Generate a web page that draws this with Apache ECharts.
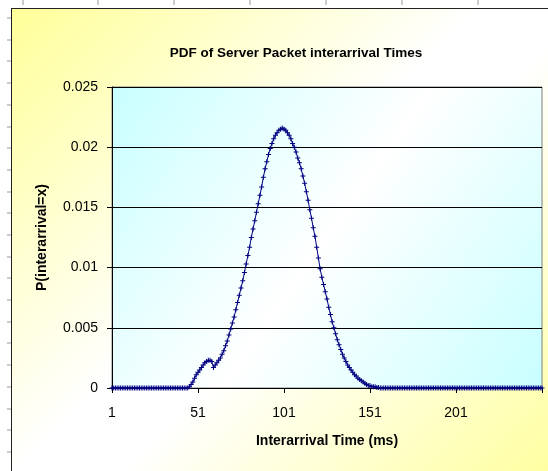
<!DOCTYPE html>
<html>
<head>
  <meta charset="utf-8">
  <title>PDF of Server Packet interarrival Times</title>
  <script src="https://cdn.jsdelivr.net/npm/echarts@6/dist/echarts.min.js"></script>
  <style>
    body { margin: 0; background: #fff; }
    #box {
      position: absolute; left: 11px; top: 8px; width: 560px; height: 480px;
      border: 1px solid #222; box-sizing: border-box;
      background: linear-gradient(135deg, #ffff99 0%, #ffffff 45%, #ffffff 55%, #ffff99 100%);
    }
    #main { position: absolute; left: 0; top: 0; width: 548px; height: 471px; }
  </style>
</head>
<body>
<div id="box"></div>
<div id="main"></div>
<script type="text/javascript">
  // x categories are the interarrival times 1..251 ms
  var times = [];
  for (var t = 1; t <= 251; t++) times.push(String(t));

  var yTicks = [0, 0.005, 0.01, 0.015, 0.02, 0.025];

  // P(interarrival = x)
  var pdf = [
    0,0,0,0,0,0,0,0,0,0, 0,0,0,0,0,0,0,0,0,0,
    0,0,0,0,0,0,0,0,0,0, 0,0,0,0,0,0,0,0,0,0,
    0,0,0,0,0,0.0001,0.0003,0.0005,0.0008,0.0011,
    0.0013,0.0015,0.0017,0.0019,0.0021,0.0022,0.0023,0.0023,0.0022,0.0017,
    0.0019,0.0021,0.0023,0.0025,0.0028,0.0031,0.0035,0.0039,0.0044,0.0049,
    0.0054,0.0059,0.0065,0.0071,0.0077,0.0083,0.0089,0.0096,0.0103,0.0110,
    0.0117,0.0125,0.0132,0.0139,0.0146,0.0153,0.0160,0.0167,0.0175,0.0182,
    0.0188,0.0194,0.0199,0.0203,0.0207,0.0210,0.0212,0.0214,0.0215,0.0216,
    0.0215,0.0214,0.0212,0.0210,0.0207,0.0203,0.0200,0.0196,0.0191,0.0187,
    0.0182,0.0176,0.0170,0.0163,0.0156,0.0148,0.0141,0.0133,0.0126,0.0117,
    0.0108,0.0099,0.0092,0.0086,0.0080,0.0074,0.0067,0.0061,0.0055,0.0050,
    0.0045,0.0040,0.0036,0.0032,0.0028,0.0025,0.0022,0.0019,0.0017,0.0015,
    0.0013,0.0011,0.0010,0.0008,0.0007,0.0006,0.0005,0.0004,0.0003,0.0002,
    0.0002,0.0001,0.0001,0.0001,0.00005,0.00005,0,0,0,0,
    0,0,0,0,0,0,0,0,0,0, 0,0,0,0,0,0,0,0,0,0,
    0,0,0,0,0,0,0,0,0,0, 0,0,0,0,0,0,0,0,0,0,
    0,0,0,0,0,0,0,0,0,0, 0,0,0,0,0,0,0,0,0,0,
    0,0,0,0,0,0,0,0,0,0, 0,0,0,0,0,0,0,0,0,0,
    0,0,0,0,0,0,0,0,0,0, 0
  ];

  // little sheet-cell marks around the chart box
  var sheetMarks = [];
  [23, 98, 174, 250, 326, 402, 478].forEach(function (x) {
    sheetMarks.push({ type: 'line', shape: { x1: x, y1: 0, x2: x, y2: 5 }, style: { stroke: '#999', lineWidth: 1 } });
  });
  for (var y = 18; y < 471; y += 21.7) {
    sheetMarks.push({ type: 'line', shape: { x1: 7, y1: Math.round(y), x2: 11, y2: Math.round(y) }, style: { stroke: '#999', lineWidth: 1 } });
  }

  var chart = echarts.init(document.getElementById('main'));
  chart.setOption({
    animation: false,
    backgroundColor: 'transparent',
    textStyle: { fontFamily: 'Liberation Sans, Arial, sans-serif' },
    title: {
      text: 'PDF of Server Packet interarrival Times',
      left: 291, top: 41, textAlign: 'center',
      textStyle: { fontSize: 13.5, fontWeight: 'bold', color: '#000' }
    },
    graphic: sheetMarks,
    grid: {
      left: 112, top: 87, right: 6, bottom: 83,
      show: true,
      borderColor: '#808080', borderWidth: 1,
      backgroundColor: {
        type: 'linear', x: 0, y: 0, x2: 1, y2: 1,
        colorStops: [
          { offset: 0, color: '#c8ffff' },
          { offset: 0.5, color: '#ffffff' },
          { offset: 1, color: '#c8ffff' }
        ]
      }
    },
    xAxis: {
      type: 'category',
      data: times,
      boundaryGap: false,
      name: 'Interarrival Time (ms)',
      nameLocation: 'middle',
      nameGap: 46,
      nameTextStyle: { fontSize: 14, fontWeight: 'bold', color: '#000' },
      axisLine: { lineStyle: { color: '#000', width: 1 } },
      axisTick: {
        length: 5, lineStyle: { color: '#000' },
        interval: function (i) { return i % 50 === 0; }
      },
      axisLabel: {
        fontSize: 14, color: '#000', margin: 18,
        interval: function (i) { return i % 50 === 0 && i < 250; }
      },
      splitLine: { show: false }
    },
    yAxis: {
      type: 'value',
      min: yTicks[0], max: yTicks[yTicks.length - 1], interval: 0.005,
      name: 'P(interarrival=x)',
      nameLocation: 'middle',
      nameGap: 63,
      nameTextStyle: { fontSize: 14, fontWeight: 'bold', color: '#000' },
      axisLine: { show: true, lineStyle: { color: '#000', width: 1 } },
      axisTick: { show: true, length: 5, lineStyle: { color: '#000' } },
      axisLabel: { fontSize: 14, color: '#000', margin: 14 },
      splitLine: { show: true, lineStyle: { color: '#000', width: 1 } }
    },
    series: [{
      name: 'PDF',
      type: 'line',
      data: pdf,
      showAllSymbol: true,
      symbol: 'path://M2,0h1v2h2v1h-2v2h-1v-2h-2v-1h2z',
      symbolSize: 5,
      lineStyle: { color: '#000080', width: 1 },
      itemStyle: { color: '#000080' }
    }]
  });

  window.addEventListener('resize', chart.resize);
</script>
</body>
</html>
